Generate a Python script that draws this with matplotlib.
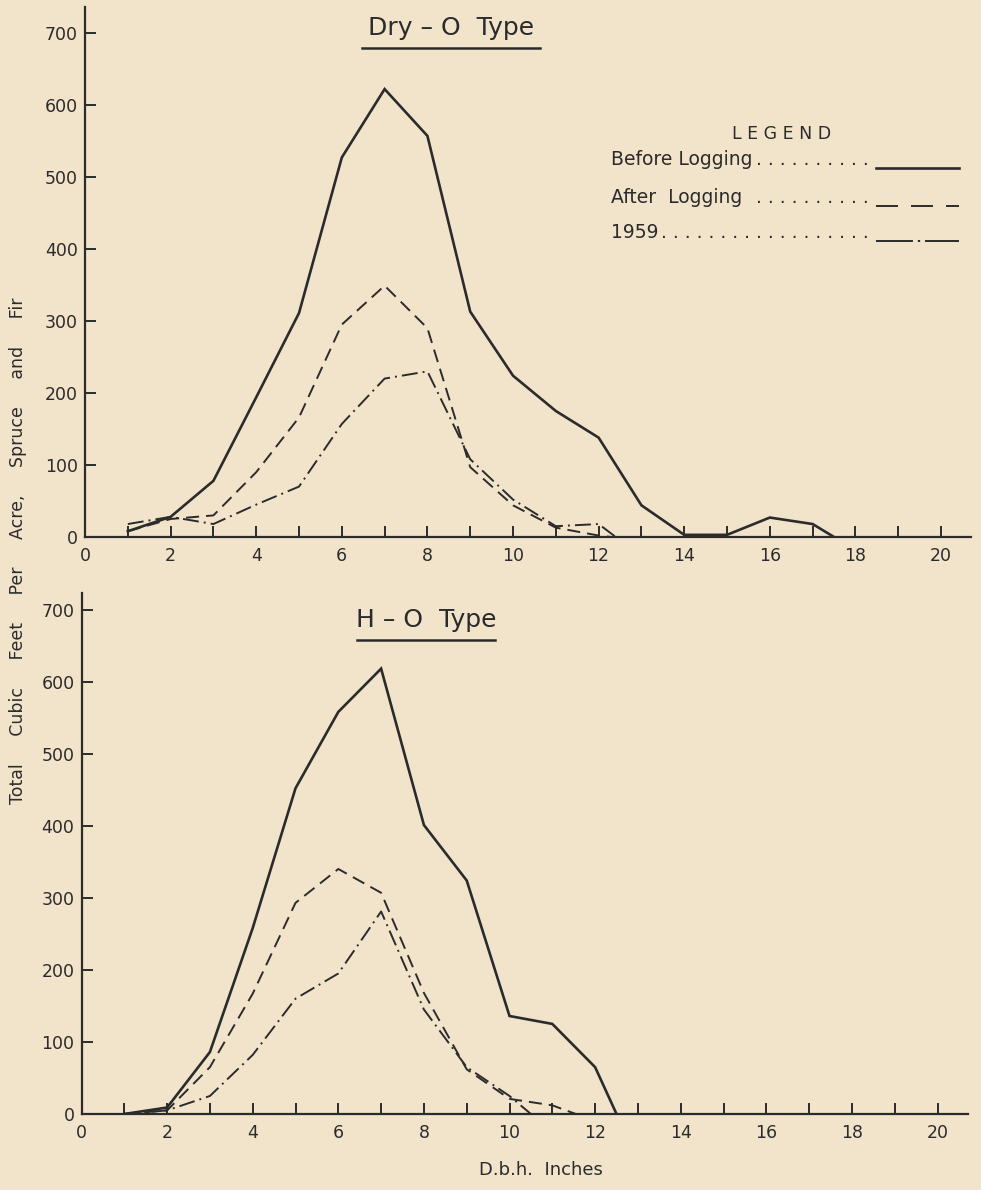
import matplotlib
matplotlib.use("Agg")
import matplotlib.pyplot as plt
from matplotlib.lines import Line2D

# ---------------- data ----------------
# Dry - O Type
dbh_dry_before = [1, 2, 3, 4, 5, 6, 7, 8, 9, 10, 11, 12, 13, 14, 15, 16, 17, 17.5]
vol_dry_before = [8, 28, 78, 194, 311, 527, 622, 557, 313, 224, 175, 138, 44, 3, 3, 27, 18, 0]

dbh_dry_after = [1, 2, 3, 4, 5, 6, 7, 8, 9, 10, 11, 12, 12.3]
vol_dry_after = [8, 25, 30, 90, 166, 295, 349, 290, 97, 44, 13, 2, 0]

dbh_dry_1959 = [1, 2, 3, 4, 5, 6, 7, 8, 9, 10, 11, 12, 12.4]
vol_dry_1959 = [18, 28, 18, 45, 70, 157, 220, 230, 108, 52, 15, 18, 0]

# H - O Type
dbh_ho_before = [1, 2, 3, 4, 5, 6, 7, 8, 9, 10, 11, 12, 12.5]
vol_ho_before = [0, 9, 86, 258, 452, 558, 618, 401, 324, 136, 125, 65, 0]

dbh_ho_after = [1, 2, 3, 4, 5, 6, 7, 8, 9, 10, 11, 11.55]
vol_ho_after = [0, 5, 65, 167, 293, 340, 307, 168, 62, 21, 12, 0]

dbh_ho_1959 = [1, 2, 3, 4, 5, 6, 7, 8, 9, 10, 10.5]
vol_ho_1959 = [0, 5, 25, 82, 160, 195, 281, 145, 65, 25, 0]

x_tick_values = list(range(0, 21, 2))
x_minor_values = list(range(1, 21, 2))
y_tick_values = list(range(0, 701, 100))

panel_titles = ["Dry \u2013 O  Type", "H \u2013 O  Type"]
legend_labels = ["Before Logging", "After  Logging", "1959"]
y_label = "     ".join(["Total", "Cubic", "Feet", "Per", "Acre,", "Spruce", "and", "Fir"])
x_label = "D.b.h.  Inches"

# ---------------- style ----------------
BG = "#F2E4CB"
INK = "#2b2b2b"
plt.rcParams["font.family"] = ["DejaVu Sans"]

W, H = 981, 1190
fig = plt.figure(figsize=(W / 100, H / 100), dpi=100, facecolor=BG)


def fx(px):
    return px / W


def fy(py):
    return 1 - py / H


ax1 = fig.add_axes([fx(85), fy(537), 886 / W, 530 / H])
ax2 = fig.add_axes([fx(81.5), fy(1114), 886 / W, 521 / H])

solid_kw = dict(color=INK, lw=1.9, solid_joinstyle="miter")
dash_kw = dict(color=INK, lw=1.4, dashes=(6.7, 3.6))
dashdot_kw = dict(color=INK, lw=1.4, dashes=(8.2, 2.6, 1.0, 2.6))

ax1.plot(dbh_dry_before, vol_dry_before, **solid_kw)
ax1.plot(dbh_dry_after, vol_dry_after, **dash_kw)
ax1.plot(dbh_dry_1959, vol_dry_1959, **dashdot_kw)

ax2.plot(dbh_ho_before, vol_ho_before, **solid_kw)
ax2.plot(dbh_ho_after, vol_ho_after, **dash_kw)
ax2.plot(dbh_ho_1959, vol_ho_1959, **dashdot_kw)

for ax, ytop in ((ax1, 736), (ax2, 723)):
    ax.set_facecolor(BG)
    ax.set_xlim(0, 20.7)
    ax.set_ylim(0, ytop)
    for s in ("top", "right"):
        ax.spines[s].set_visible(False)
    for s in ("left", "bottom"):
        ax.spines[s].set_color(INK)
        ax.spines[s].set_linewidth(1.6)
    ax.set_xticks(x_tick_values)
    ax.set_xticklabels([str(v) for v in x_tick_values])
    ax.set_xticks(x_minor_values, minor=True)
    ax.set_yticks(y_tick_values)
    ax.set_yticklabels([str(v) for v in y_tick_values])
    ax.tick_params(which="both", direction="in", length=8, width=1.4,
                   colors=INK, labelsize=12.5)
    ax.tick_params(axis="x", pad=7)
    ax.tick_params(axis="y", pad=5)

# panel titles with underline
fig.text(fx(451), fy(28), panel_titles[0], ha="center", va="center",
         fontsize=18, color=INK)
fig.add_artist(Line2D([fx(362), fx(540)], [fy(48), fy(48)],
                      transform=fig.transFigure, color=INK, lw=1.8))
fig.text(fx(426), fy(620), panel_titles[1], ha="center", va="center",
         fontsize=18, color=INK)
fig.add_artist(Line2D([fx(357), fx(495)], [fy(640), fy(640)],
                      transform=fig.transFigure, color=INK, lw=1.8))

# legend
fig.text(fx(782), fy(139), "L E G E N D", ha="center", va="baseline",
         fontsize=12.5, color=INK)
row_base = [165, 203, 238]
dot_counts = [10, 10, 18]
key_y = [168, 206, 241]
key_dashes = [None, (11.3, 6.7), (19, 2.5, 1.2, 2.5)]
for lab, yb, nd, ky, kd in zip(legend_labels, row_base, dot_counts, key_y, key_dashes):
    fig.text(fx(611), fy(yb), lab, ha="left", va="baseline", fontsize=13.5, color=INK)
    fig.text(fx(869), fy(yb), " ".join(["."] * nd), ha="right", va="baseline",
             fontsize=13.5, color=INK)
    ln = Line2D([fx(876), fx(959)], [fy(ky), fy(ky)], transform=fig.transFigure,
                color=INK, lw=1.9 if kd is None else 1.4)
    if kd is not None:
        ln.set_dashes(kd)
    fig.add_artist(ln)

# axis labels
fig.text(fx(18), fy(551), y_label, rotation=90, ha="center", va="center",
         fontsize=12.5, color=INK)
fig.text(fx(541), fy(1170), x_label, ha="center", va="center",
         fontsize=13, color=INK)

fig.savefig("out.png", dpi=100, facecolor=BG)
